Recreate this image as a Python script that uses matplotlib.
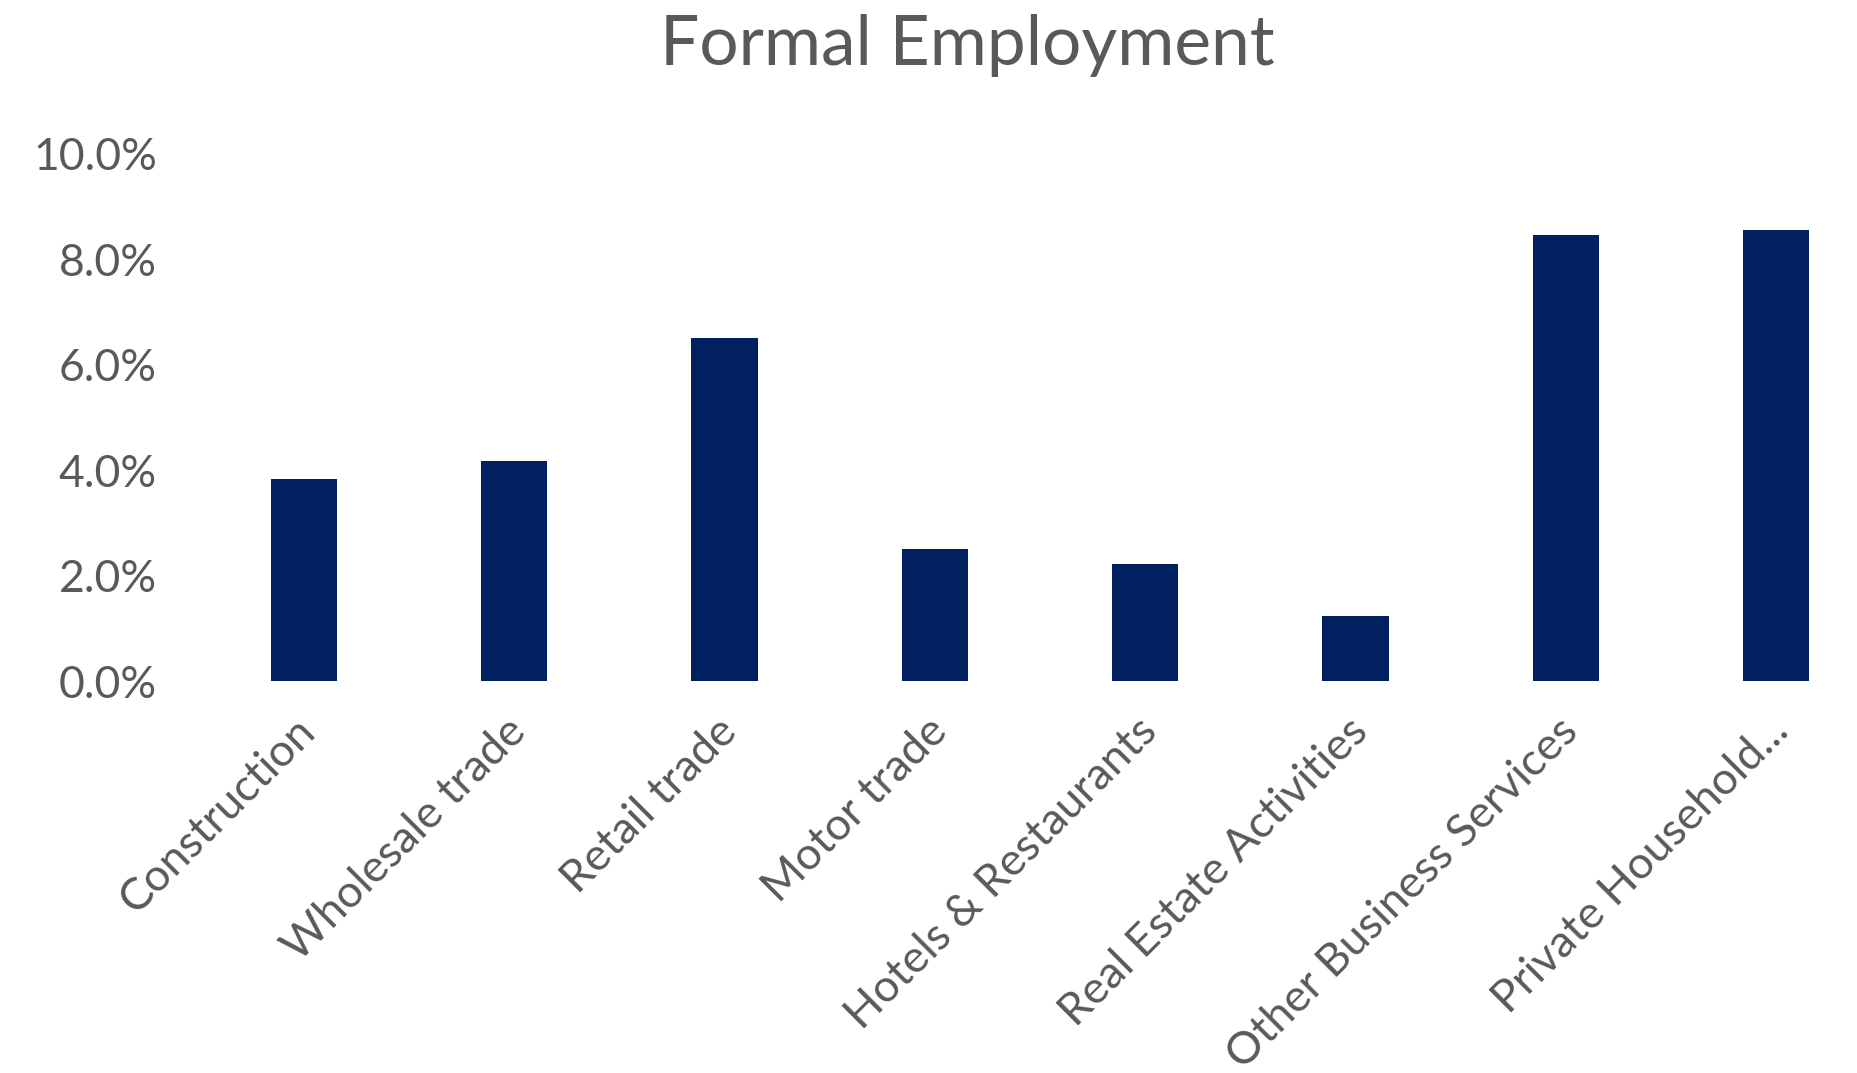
import numpy as np
import matplotlib
matplotlib.use('Agg')
import matplotlib.pyplot as plt
import matplotlib.transforms as mtransforms
from matplotlib.ticker import FuncFormatter

#sectors and their share of formal employment (%)
categories=['Construction',
            'Wholesale trade',
            'Retail trade',
            'Motor trade',
            'Hotels & Restaurants',
            'Real Estate Activities',
            'Other Business Services',
            'Private Household...']

shares=[3.83,4.18,6.50,2.51,2.22,1.23,8.47,8.56]

y_ticks=[0,2,4,6,8,10]

#colors
bar_color='#002060'
text_color='#595959'

plt.rcParams['font.family']=['Lato','DejaVu Sans']

figure=plt.figure(figsize=(18.57,10.73),dpi=100)

#plot area
ax=figure.add_axes([0.107,0.3653,0.906,0.4912])

x=np.arange(len(categories))

ax.bar(x,shares,width=0.315,color=bar_color)

ax.set_xlim(-0.5,len(categories)-0.5)
ax.set_ylim(0,10)

ax.set_yticks(y_ticks)
ax.yaxis.set_major_formatter(FuncFormatter(lambda v,pos:'%.1f%%'%v))

ax.set_xticks(x)
ax.set_xticklabels(categories,rotation=45,ha='right',rotation_mode='anchor')

ax.tick_params(axis='y',length=0,pad=30,labelsize=32,labelcolor=text_color)
ax.tick_params(axis='x',length=0,pad=21,labelsize=32.5,labelcolor=text_color)

#nudge category labels a little to the left
shift=mtransforms.ScaledTranslation(-9/100,0,figure.dpi_scale_trans)
for label in ax.get_xticklabels():
    label.set_transform(label.get_transform()+shift)

for side in ['top','right','bottom','left']:
    ax.spines[side].set_visible(False)

#title
figure.text(0.521,0.958,'Formal Employment',
            ha='center',va='center',fontsize=50,color=text_color)

figure.savefig('out.png',dpi=100)
plt.close()
